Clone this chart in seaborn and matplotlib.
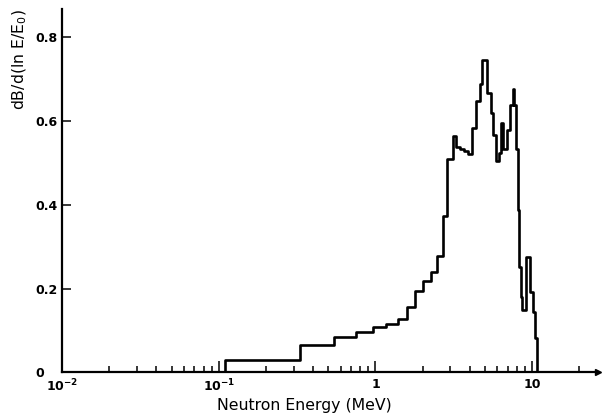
import numpy as np
import pandas as pd
import matplotlib
matplotlib.use("Agg")
import matplotlib.pyplot as plt
import seaborn as sns
from matplotlib.ticker import LogLocator, FixedLocator, NullFormatter

# Bin edges (MeV) and step heights dB/d(ln E/E0)
energy_edges = [0.109, 0.328, 0.540, 0.746, 0.971, 1.175, 1.401, 1.599, 1.798, 2.02,
                2.27, 2.48, 2.71, 2.87, 3.14, 3.28, 3.48, 3.69, 3.91, 4.15,
                4.40, 4.67, 4.80, 5.17, 5.48, 5.64, 5.90, 6.17, 6.35, 6.54,
                6.93, 7.24, 7.57, 7.68, 7.91, 8.14, 8.27, 8.51, 8.64, 9.16,
                9.71, 10.15, 10.45, 10.76]
bin_values = [0.029, 0.065, 0.084, 0.097, 0.109, 0.115, 0.127, 0.157, 0.194, 0.218,
              0.240, 0.278, 0.373, 0.509, 0.565, 0.539, 0.534, 0.528, 0.522, 0.583,
              0.648, 0.690, 0.745, 0.668, 0.620, 0.567, 0.505, 0.525, 0.596, 0.533,
              0.579, 0.639, 0.676, 0.639, 0.533, 0.388, 0.252, 0.181, 0.150, 0.275,
              0.193, 0.145, 0.081]

x_tick_values = [0.01, 0.1, 1, 10]
x_tick_labels = [r"$\mathbf{10^{-2}}$", r"$\mathbf{10^{-1}}$", "1", "10"]
y_tick_values = [0, 0.2, 0.4, 0.6, 0.8]
y_tick_labels = ["0", "0.2", "0.4", "0.6", "0.8"]

sns.set_style("ticks")
plt.rcParams["font.family"] = ["DejaVu Sans"]
plt.rcParams["text.color"] = "black"
plt.rcParams["axes.labelcolor"] = "black"
plt.rcParams["xtick.color"] = "black"
plt.rcParams["ytick.color"] = "black"

fig = plt.figure(figsize=(6.04, 4.17), dpi=100)
ax = fig.add_axes([62 / 604, (417 - 372.3) / 417, (598 - 62) / 604, (372.3 - 9) / 417])

xs = [energy_edges[0]] + list(energy_edges)
ys = [0.0] + list(bin_values) + [0.0]
df = pd.DataFrame({"E": xs, "v": ys})
sns.lineplot(data=df, x="E", y="v", drawstyle="steps-post", color="black",
             linewidth=1.9, estimator=None, sort=False, ax=ax)

ax.set_xscale("log")
ax.set_xlim(0.01, 26.3)
ax.set_ylim(0, 0.868)

ax.xaxis.set_major_locator(FixedLocator(x_tick_values))
ax.set_xticklabels(x_tick_labels, fontsize=9, fontweight="bold")
ax.xaxis.set_minor_locator(LogLocator(base=10, subs=np.arange(2, 10), numticks=20))
ax.xaxis.set_minor_formatter(NullFormatter())

ax.set_yticks(y_tick_values)
ax.set_yticklabels(y_tick_labels, fontsize=9, fontweight="bold")
for lab in ax.get_yticklabels():
    lab.set_horizontalalignment("left")

ax.tick_params(axis="x", which="major", direction="in", length=8, width=1.1, pad=4,
               color="black", labelcolor="black")
ax.tick_params(axis="x", which="minor", direction="in", length=4.5, width=1.1, color="black")
ax.tick_params(axis="y", which="major", direction="in", length=6.5, width=1.1, pad=19.5,
               color="black", labelcolor="black")

for side in ["top", "right"]:
    ax.spines[side].set_visible(False)
for side in ["left", "bottom"]:
    ax.spines[side].set_linewidth(1.6)
    ax.spines[side].set_color("black")

ax.plot(1, 0, ">", transform=ax.transAxes, color="black", markersize=4, clip_on=False)

ax.set_xlabel("Neutron Energy (MeV)", fontsize=11.3, color="black")
ax.xaxis.set_label_coords(0.452, -0.071)
ax.set_ylabel(r"dB/d(ln E/E$_0$)", fontsize=11.3, color="black")
ax.yaxis.set_label_coords(-0.062, 0.862)

fig.savefig("out.png", dpi=100)
